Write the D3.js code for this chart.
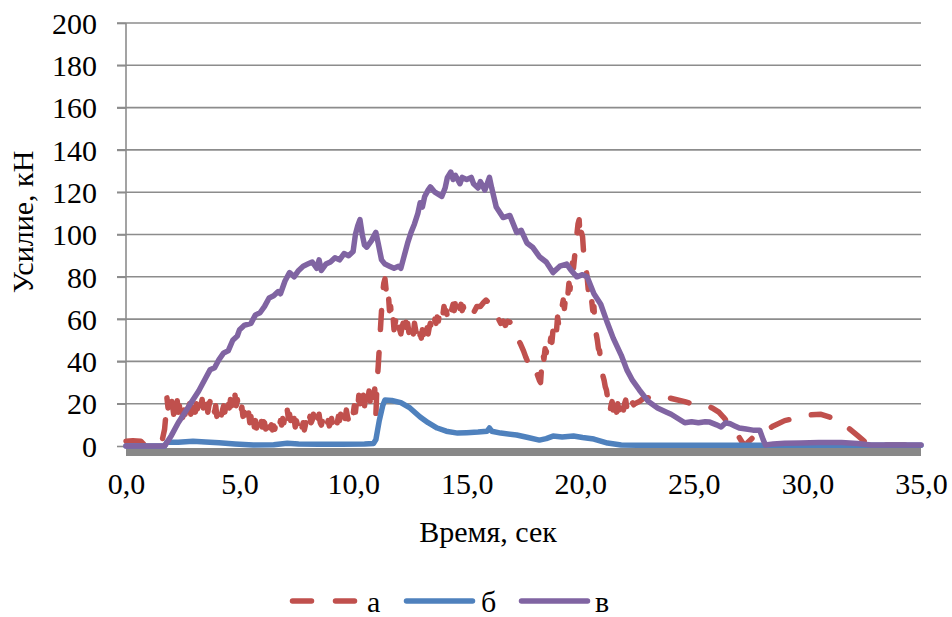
<!DOCTYPE html>
<html><head><meta charset="utf-8">
<script src="https://cdn.jsdelivr.net/npm/d3@7"></script>
<style>body{margin:0;background:#fff}svg{display:block}</style>
</head><body>
<svg id="c" width="952" height="617"></svg>
<script>
const seriesNames = ["а", "б", "в"];
const seriesColors = ["#C0504D", "#4F81BD", "#8064A2"];
const yTicks = [0, 20, 40, 60, 80, 100, 120, 140, 160, 180, 200];
const xTicks = [0, 5, 10, 15, 20, 25, 30, 35];

const seriesA = [[0,2.3],[0.3,2.5],[0.65,2.3],[0.8,0.6],[1.2,0.5],[1.5,0.8],[1.6,3],
[1.70,8],[1.75,14],[1.80,23],[1.85,18],[1.90,21],[1.95,16],[2.00,22],[2.05,19],[2.10,15],[2.15,20],[2.20,17],[2.25,22],[2.30,16],[2.35,19],[2.40,14],[2.45,18],[2.50,13.5],[2.55,17],[2.60,15],[2.65,19],[2.70,14],[2.75,18],[2.80,20],[2.85,15],[2.90,18],[2.95,14.5],
[3.00,19],[3.05,16],[3.10,20],[3.15,17],[3.20,22],[3.25,23.5],[3.30,19],[3.35,22],[3.40,18],[3.45,21],[3.50,17],[3.55,20.8],[3.60,16],[3.65,19],[3.70,21],[3.75,17],[3.80,15],[3.85,18],[3.90,16],[3.95,19],
[4.00,14],[4.05,17],[4.10,15],[4.15,18],[4.20,14.7],[4.25,17],[4.30,19],[4.35,16],[4.40,20],[4.45,17],[4.50,21],[4.55,18],[4.60,22],[4.65,19],[4.70,23],[4.75,20],[4.80,24],[4.85,19],[4.90,22],[4.95,18],
[5.00,20],[5.05,16],[5.10,18.4],[5.15,14],[5.20,16],[5.25,12],[5.30,15],[5.35,12.3],[5.40,15.6],[5.45,11],[5.50,14],[5.55,10],[5.60,13.5],[5.65,9],[5.70,12],[5.75,8.5],[5.80,11],[5.85,13.7],[5.90,10],[5.95,12.5],
[6.00,9],[6.05,11.5],[6.10,10.9],[6.15,8],[6.20,11],[6.25,9],[6.30,12],[6.35,8.5],[6.40,10],[6.45,7.6],[6.50,9.5],[6.55,8],[6.60,10.5],[6.65,8.5],[6.70,11],[6.75,9],[6.80,12],[6.85,9.9],[6.90,13],[6.95,11],
[7.00,14.7],[7.05,12],[7.10,17],[7.15,13],[7.20,15],[7.25,12],[7.30,16],[7.35,11],[7.40,13],[7.45,9],[7.50,12],[7.55,10],[7.60,13],[7.65,10.9],[7.70,12.5],[7.75,9],[7.80,11],[7.85,7.6],[7.90,10],[7.95,13],
[8.00,16],[8.05,12],[8.10,14],[8.15,11],[8.20,12.3],[8.25,15],[8.30,12],[8.35,14],[8.40,17],[8.45,13],[8.50,15],[8.55,11],[8.60,9.9],[8.65,12],[8.70,9],[8.75,11],[8.80,8.5],[8.85,10],[8.90,12],[8.95,9.5],
[9.00,11],[9.05,13],[9.10,10],[9.15,12.3],[9.20,10],[9.25,13],[9.30,11],[9.35,14],[9.40,12],[9.45,15],[9.50,11],[9.55,13.5],[9.60,16],[9.65,13],[9.70,17],[9.75,14],[9.80,12],[9.85,14],[9.90,11],[9.95,13.7],
[10.00,15],[10.05,19],[10.10,16],[10.15,21],[10.20,17],[10.25,24],[10.30,20],[10.35,26.5],[10.40,21],[10.45,24],[10.50,19],[10.55,23],[10.60,27],[10.65,22],[10.70,26],[10.75,21],[10.80,25],[10.85,28],[10.90,23],[10.95,27],[11.00,14],[11.05,30],[11.10,37],
[11.15,46],[11.20,55],[11.25,64],[11.30,72],[11.35,77],[11.40,79],[11.45,74],[11.50,69],[11.55,72],[11.60,64],[11.65,66],[11.70,59],[11.75,62],[11.80,55],[11.85,58],[11.90,61],[11.95,57],
[12.00,59],[12.05,55],[12.10,53],[12.15,56],[12.20,58],[12.25,54],[12.30,60],[12.35,56],[12.40,58],[12.45,54],[12.50,52],[12.55,55],[12.60,57],[12.65,53],[12.70,58],[12.75,55],[12.80,52],[12.85,54],[12.90,50],[12.95,53],
[13.00,51],[13.05,55],[13.10,52],[13.15,56],[13.20,54],[13.25,57],[13.30,53],[13.35,56],[13.40,58],[13.45,55],[13.50,59],[13.55,57],[13.60,60],[13.65,58],[13.70,61],[13.75,59],[13.80,62],[13.85,60],[13.90,64],[13.95,62],
[14.00,66],[14.05,63],[14.10,64],[14.15,61],[14.20,63],[14.25,65],[14.30,62],[14.35,65],[14.40,67],[14.45,64],[14.50,68],[14.55,70],[14.60,67],[14.65,69],[14.70,65],[14.75,67],[14.80,64],[14.85,66],[14.90,63],[14.95,61],[15.00,62],
[15.15,64],[15.3,63],[15.45,66],[15.6,66],[15.75,68],[15.85,69],[16.0,67.5],[16.1,64],[16.25,63],[16.4,60],[16.5,58],[16.6,59],[16.7,57],[16.8,59],[16.9,58.6],[17.05,56],[17.2,51.5],[17.35,48.6],[17.5,45],[17.6,42],[17.8,37],[17.9,35],[18.0,32.6],[18.1,34],[18.2,31],[18.25,30],
[18.30,38],[18.35,44],[18.40,41],[18.45,46],[18.50,44],[18.55,48],[18.60,50],[18.65,47],[18.70,51],[18.75,49],[18.80,55],[18.85,52],[18.90,56],[18.95,54],
[19.00,61],[19.05,57],[19.10,60],[19.15,63],[19.20,66],[19.25,69],[19.30,65],[19.35,70],[19.40,74],[19.45,71],[19.50,77],[19.55,74],[19.60,82],[19.65,86.5],[19.70,84],[19.75,89.5],[19.80,95],[19.85,100],[19.90,105],[19.95,107],
[20.00,97],[20.05,101],[20.10,99],[20.15,91],[20.20,88],[20.25,84],[20.30,80],[20.35,74],[20.40,77],[20.45,70],[20.50,69],[20.55,64],[20.60,66],[20.65,57],[20.70,53],[20.75,50],[20.80,46],[20.85,45],[20.90,40],[20.95,37],
[21.00,33],[21.05,31],[21.10,28],[21.15,26.5],[21.20,23],[21.25,18.4],[21.30,15.6],[21.35,19],[21.40,21],[21.45,17],[21.50,23],[21.55,19],[21.60,16],[21.65,20],[21.70,17],[21.75,21],[21.80,16.5],[21.85,19],[21.90,17],[21.95,20],
[22.00,21.7],[22.05,18],[22.10,20],[22.15,18.4],[22.20,21],[22.25,19],[22.30,20.5],[22.35,19.5],[22.40,20],
[22.6,21],[22.8,22.7],[23.2,23],[23.6,24],[23.8,23],[24.2,22],[24.6,21],[25.1,19.4],[25.5,19.5],[25.8,18],[26.1,16],[26.3,13.7],[26.5,11],[26.7,9],[27.0,4],[27.2,0.5],[27.35,1.4],[27.6,4],[27.8,6],[28.1,7],[28.5,9.5],[29.0,12],[29.7,13.7],[30.1,14.7],[30.6,15],[31.1,13.2],[31.4,11],[31.75,9],[32.2,5],[32.6,1.4],[32.9,0.5],[35,0.5]];

const seriesB = [[0,0],[1.7,0],[1.8,1.8],[2.3,1.8],[2.95,2.3],[3.5,1.9],[4.1,1.5],[4.8,1],[5.6,0.5],[6.5,0.6],[7.1,1.3],[7.6,1.0],[8.5,0.8],[9.5,0.8],[10.5,0.9],[10.9,1.2],[11.0,3],[11.15,12],[11.3,19],[11.4,21.7],[11.7,21.5],[12.1,20.5],[12.5,18],[12.95,13.7],[13.3,11],[13.7,8.5],[14.1,7],[14.6,6.1],[15.0,6.3],[15.5,6.6],[15.9,7],[16.0,8.5],[16.1,7],[16.5,6.1],[17.2,5.2],[17.7,4],[18.2,2.8],[18.5,3.5],[18.8,4.7],[19.2,4.3],[19.7,4.7],[20.1,4],[20.6,3.3],[21.2,1.4],[21.8,0.5],[22.5,0.3],[35,0.3]];

const seriesC = [[0,0],[1.7,0],[2.0,5],[2.3,11],[2.6,16],[2.9,21],[3.2,26],[3.5,32],[3.7,36],[3.9,37],[4.1,41],[4.3,44],[4.5,45],[4.7,50],[4.9,52],[5.0,55],[5.2,57],[5.5,58],[5.7,62],[5.9,63],[6.1,66],[6.3,70],[6.5,71],[6.7,73],[6.8,72],[7.0,78],[7.2,82],[7.4,80],[7.6,83],[7.8,85],[8.0,86],[8.2,87],[8.4,84],[8.5,88],[8.6,83],[8.8,86],[9.0,87],[9.2,89],[9.4,88],[9.6,91],[9.8,90],[10.0,92],[10.1,100],[10.2,104],[10.3,107],[10.4,100],[10.5,95],[10.6,94],[10.8,97],[11.0,101],[11.1,96],[11.25,88],[11.4,86],[11.6,85],[11.8,84],[12.0,85],[12.1,84],[12.2,88],[12.4,96],[12.55,101],[12.7,105],[12.85,110],[12.95,115],[13.05,113],[13.15,118],[13.3,121],[13.4,122.5],[13.6,120],[13.9,118],[14.05,122],[14.15,127],[14.3,129.5],[14.4,126],[14.5,128],[14.7,124],[14.8,127],[15.0,126],[15.2,127],[15.3,124],[15.5,122],[15.6,125],[15.8,121],[16.0,127],[16.1,122],[16.3,113],[16.6,108],[16.9,109],[17.2,101],[17.4,102],[17.65,96],[17.9,94],[18.2,89.5],[18.5,87],[18.8,82],[19.1,85],[19.4,86],[19.6,83],[19.85,80],[20.1,81],[20.3,80],[20.6,72],[20.9,67],[21.2,58],[21.45,51],[21.8,43],[22.05,36],[22.3,31],[22.6,26.5],[23.0,21],[23.4,18],[23.8,16],[24.0,15],[24.3,13],[24.6,11],[24.9,11.5],[25.2,11],[25.5,11.5],[25.7,11.3],[26.0,10],[26.2,9],[26.4,11],[26.6,10.5],[26.8,9.5],[27.0,8.5],[27.3,8],[27.6,7.5],[27.9,7.5],[28.05,3],[28.15,0.5],[28.5,1],[29.0,1.3],[29.7,1.4],[30.5,1.6],[31.5,1.6],[32.2,1.2],[32.8,0.5],[35,0.5]];

const allSeries = [seriesA, seriesB, seriesC];

const svg = d3.select("#c");
const font = "'Liberation Serif','Times New Roman',serif";
const x = d3.scaleLinear().domain([0, 35]).range([126, 921]);
const y = d3.scaleLinear().domain([0, 200]).range([446, 23]);
const gridColor = "#8c8c8c";

svg.append("g").selectAll("line").data(yTicks.filter(d => d > 0)).join("line")
  .attr("x1", 117).attr("x2", 921)
  .attr("y1", d => y(d)).attr("y2", d => y(d))
  .attr("stroke", gridColor).attr("stroke-width", 1.6);

const yAxis = d3.axisLeft(y).tickValues(yTicks).tickSize(9).tickPadding(20).tickFormat(d3.format("d"));
const gy = svg.append("g").attr("transform", "translate(126,0)").call(yAxis);
gy.select(".domain").attr("stroke", gridColor).attr("stroke-width", 1.6).attr("d", "M0,23V446");
gy.selectAll(".tick line").attr("stroke", gridColor).attr("stroke-width", 1.6);
gy.selectAll(".tick text").attr("font-family", font).attr("font-size", 30).attr("fill", "#000").attr("dy", "0.34em");

svg.append("rect").attr("x", x(0)).attr("y", y(0) + 2).attr("width", x(35) - x(0)).attr("height", 8).attr("fill", "#888888");

const xAxis = d3.axisBottom(x).tickValues(xTicks).tickSize(0).tickPadding(0).tickFormat(d => d3.format(".1f")(d).replace(".", ","));
const gx = svg.append("g").attr("transform", "translate(0,494)").call(xAxis);
gx.select(".domain").remove();
gx.selectAll(".tick text").attr("font-family", font).attr("font-size", 30).attr("fill", "#000").attr("dy", 0).attr("y", 0);

const line = d3.line().x(d => x(d[0])).y(d => y(d[1])).curve(d3.curveLinear);
allSeries.forEach((s, i) => {
  svg.append("path").datum(s).attr("d", line)
    .attr("fill", "none").attr("stroke", seriesColors[i]).attr("stroke-width", 5.5)
    .attr("stroke-linejoin", "round").attr("stroke-linecap", "round")
    .attr("stroke-dasharray", i === 0 ? "19,23" : null);
});

svg.append("text").attr("x", 488).attr("y", 542).attr("text-anchor", "middle")
  .attr("font-family", font).attr("font-size", 30).text("Время, сек");
svg.append("text").attr("transform", "translate(33,222) rotate(-90)").attr("text-anchor", "middle")
  .attr("font-family", font).attr("font-size", 30).text("Усилие, кН");

const legendItems = [
  {x1: 292.5, x2: 354.5, tx: 367},
  {x1: 406.5, x2: 472.5, tx: 481},
  {x1: 521.5, x2: 587.5, tx: 595}
];
const lg = svg.append("g");
legendItems.forEach((it, i) => {
  lg.append("line").attr("x1", it.x1).attr("x2", it.x2).attr("y1", 601).attr("y2", 601)
    .attr("stroke", seriesColors[i]).attr("stroke-width", 5.5).attr("stroke-linecap", "round")
    .attr("stroke-dasharray", i === 0 ? "19,24" : null);
  lg.append("text").attr("x", it.tx).attr("y", 612).attr("font-family", font).attr("font-size", 30).text(seriesNames[i]);
});
</script>
</body></html>
